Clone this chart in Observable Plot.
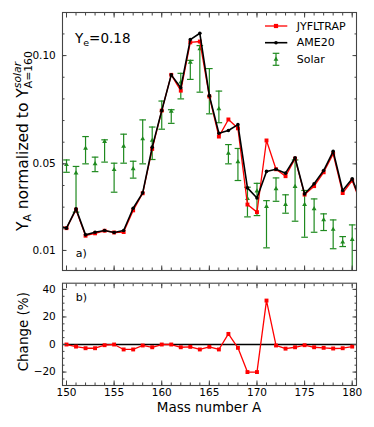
<!DOCTYPE html>
<html><head><meta charset="utf-8">
<script src="https://cdn.jsdelivr.net/npm/d3@7"></script>
<script src="https://cdn.jsdelivr.net/npm/@observablehq/plot@0.6"></script>
<style>
body{margin:0;background:#fff;}
#wrap{position:relative;width:374px;height:427px;font-family:"DejaVu Sans",sans-serif;}
#wrap svg{position:absolute;left:0;overflow:visible;}
</style></head><body><div id="wrap"></div>
<script>
// ---- data ----
const massA = [149,150,151,152,153,154,155,156,157,158,159,160,161,162,163,164,165,166,167,168,169,170,171,172,173,174,175,176,177,178,179,180,181];
const ame20 = [0.0215,0.0203,0.0292,0.0172,0.0184,0.0192,0.0183,0.0192,0.0295,0.0366,0.0577,0.0746,0.0911,0.0851,0.1074,0.1103,0.0815,0.0641,0.0654,0.0681,0.0389,0.0342,0.0465,0.0475,0.0457,0.0528,0.0361,0.0408,0.0469,0.0558,0.0377,0.0431,0.0312];
const jyfltrap = [0.0215,0.0203,0.0288,0.0168,0.0179,0.0191,0.0183,0.0185,0.0285,0.0364,0.0569,0.0746,0.0911,0.0838,0.1061,0.1065,0.0811,0.0626,0.0705,0.0664,0.0312,0.0277,0.0608,0.0475,0.0443,0.0524,0.0358,0.0397,0.0461,0.0546,0.0365,0.0423,0.0305];
const solarA = [150,151,152,153,154,155,156,157,158,159,160,161,162,163,164,165,166,167,168,169,170,171,172,173,174,175,176,177,178,179,180];
const solarVal = [0.0496,0.0457,0.0572,0.0500,0.0603,0.0473,0.0581,0.0477,0.0615,0.0608,0.0746,0.0743,0.0877,0.0969,0.1031,0.0815,0.0754,0.0549,0.0509,0.0340,0.0374,0.0303,0.0385,0.0312,0.0395,0.0312,0.0292,0.0241,0.0197,0.0138,0.0150];
const solarLo = [0.0461,0.0277,0.0500,0.0464,0.0508,0.0369,0.0503,0.0434,0.0500,0.0520,0.0660,0.0687,0.0800,0.0890,0.0831,0.0731,0.0690,0.0500,0.0423,0.0255,0.0261,0.0112,0.0327,0.0272,0.0235,0.0161,0.0184,0.0192,0.0108,0.0118,-0.0020];
const solarHi = [0.0518,0.0488,0.0626,0.0531,0.0611,0.0503,0.0637,0.0512,0.0703,0.0670,0.0790,0.0750,0.0918,0.0978,0.1046,0.0940,0.0836,0.0589,0.0571,0.0392,0.0410,0.0330,0.0435,0.0357,0.0518,0.0377,0.0338,0.0269,0.0241,0.0164,0.0218];
const changeA = [150,151,152,153,154,155,156,157,158,159,160,161,162,163,164,165,166,167,168,169,170,171,172,173,174,175,176,177,178,179,180];
const changePct = [0,-1.5,-2.7,-2.7,-0.5,0,-3.6,-3.6,-0.7,-2,0,0,-2,-1.7,-3.6,-1.7,-3.6,7.7,-2.4,-20,-20,31.9,-0.7,-3,-2,-0.5,-2,-2.4,-2.9,-2.7,-1.5];
const xMajorTicks = [150,155,160,165,170,175,180];
const xMinorTicks = d3.range(150,181);
const yTopMajor = [0.01,0.05,0.10];
const yTopMinor = d3.range(1,12).map(d=>d/100);
const yBotMajor = [-20,0,20,40];
const yBotMinor = d3.range(-25,45,5);

const RED = "#ff0000", GREEN = "#1f8a1f", FRAME = "#444";
const FONT = "DejaVu Sans";

const topData = massA.map((a,i)=>({A:a, ame:ame20[i], jy:jyfltrap[i]}));
const solarData = solarA.map((a,i)=>({A:a, v:solarVal[i], lo:solarLo[i], hi:solarHi[i]}));
const chData = changeA.map((a,i)=>({A:a, c:changePct[i]}));

const capSymbol = {draw(ctx){ ctx.moveTo(-3.3,0); ctx.lineTo(3.3,0); }};
const blank = () => "";

function frameAxes(xLabels, yMaj, yMin, yFmt) {
  const t = [];
  for (const anchor of ["bottom","top"]) {
    t.push(Plot.axisX({anchor, ticks: xMajorTicks, tickSize: -4.5, tickPadding: 7.8, label: null,
      tickFormat: (anchor==="bottom" && xLabels) ? d3.format("d") : blank, fontSize: 10.5, stroke: FRAME}));
    t.push(Plot.axisX({anchor, ticks: xMinorTicks, tickSize: -2.5, label: null, tickFormat: blank, stroke: FRAME}));
  }
  for (const anchor of ["left","right"]) {
    t.push(Plot.axisY({anchor, ticks: yMaj, tickSize: -4.5, tickPadding: 11.2, label: null,
      tickFormat: anchor==="left" ? yFmt : blank, fontSize: 10.5, stroke: FRAME}));
    t.push(Plot.axisY({anchor, ticks: yMin, tickSize: -2.5, label: null, tickFormat: blank, stroke: FRAME}));
  }
  return t;
}

const styleObj = {fontFamily: FONT, fontSize: "10.5px", color: "black", background: "transparent", overflow: "visible"};

const xDomain = [149.58, 180.45];

const topPlot = Plot.plot({
  width: 374, height: 276,
  marginLeft: 62, marginRight: 18, marginTop: 12, marginBottom: 6,
  x: {domain: xDomain},
  y: {domain: [0.00074, 0.1199]},
  style: styleObj,
  marks: [
    Plot.ruleX(solarData, {x: "A", y1: "lo", y2: "hi", stroke: GREEN, strokeWidth: 1.2, clip: true}),
    Plot.dot(solarData, {x: "A", y: "lo", symbol: capSymbol, stroke: GREEN, fill: "none", strokeWidth: 1.2, clip: true}),
    Plot.dot(solarData, {x: "A", y: "hi", symbol: capSymbol, stroke: GREEN, fill: "none", strokeWidth: 1.2, clip: true}),
    Plot.dot(solarData, {x: "A", y: "v", symbol: "triangle", r: 1.8, fill: GREEN, clip: true}),
    Plot.line(topData, {x: "A", y: "jy", stroke: RED, strokeWidth: 1.3, clip: true}),
    Plot.dot(topData, {x: "A", y: "jy", symbol: "square", r: 2.2, fill: RED, clip: true}),
    Plot.line(topData, {x: "A", y: "ame", stroke: "black", strokeWidth: 1.6, clip: true}),
    Plot.dot(topData, {x: "A", y: "ame", r: 1.8, fill: "black", clip: true}),
    Plot.frame({stroke: FRAME, strokeWidth: 1.1}),
    ...frameAxes(false, yTopMajor, yTopMinor, d3.format(".2f"))
  ]
});

const botPlot = Plot.plot({
  width: 374, height: 151,
  marginLeft: 62, marginRight: 18, marginTop: 6.7, marginBottom: 42,
  x: {domain: xDomain},
  y: {domain: [-29.75, 44.5]},
  style: styleObj,
  marks: [
    Plot.ruleY([0], {stroke: "black", strokeWidth: 1.3}),
    Plot.line(chData, {x: "A", y: "c", stroke: RED, strokeWidth: 1.3}),
    Plot.dot(chData, {x: "A", y: "c", symbol: "square", r: 2.2, fill: RED}),
    Plot.frame({stroke: FRAME, strokeWidth: 1.1}),
    ...frameAxes(true, yBotMajor, yBotMinor, d3.format("d"))
  ]
});

const wrap = document.getElementById("wrap");
topPlot.style.top = "0px";
botPlot.style.top = "276px";
wrap.appendChild(topPlot);
wrap.appendChild(botPlot);

// ---- annotations (real text) ----
const st = d3.select(topPlot), sb = d3.select(botPlot);

// y label top panel (start pinned at the bottom, reading upward)
const yl = st.append("text")
  .attr("transform", "translate(27.5,231) rotate(-90)")
  .attr("text-anchor", "start")
  .attr("font-family", FONT).attr("font-size", 15.5).attr("fill", "black");
yl.append("tspan").text("Y");
yl.append("tspan").attr("font-size", 10.8).attr("dy", 3.5).text("A");
yl.append("tspan").attr("dy", -3.5).text(" normalized to Y");
const sup = yl.append("tspan").attr("font-size", 10.8).attr("font-style", "italic").attr("dy", -6.6).text("solar");
const supW = sup.node().getComputedTextLength();
yl.append("tspan").attr("font-size", 10.8).attr("dx", -supW).attr("dy", 11.2).text("A=160");

// Ye label
const ye = st.append("text").attr("x", 75).attr("y", 43.3).attr("text-anchor", "start")
  .attr("font-family", FONT).attr("font-size", 13.5).attr("fill", "black");
ye.append("tspan").text("Y");
ye.append("tspan").attr("font-size", 9.5).attr("dy", 2.5).text("e");
ye.append("tspan").attr("dy", -2.5).text("=0.18");

st.append("text").attr("x", 75.7).attr("y", 256.5).attr("text-anchor", "start").attr("font-family", FONT).attr("font-size", 11).text("a)");
sb.append("text").attr("x", 75.7).attr("y", 300.5 - 276).attr("text-anchor", "start").attr("font-family", FONT).attr("font-size", 11).text("b)");

// legend
const lg = st.append("g").attr("font-family", FONT).attr("font-size", 11);
const legendItems = [
  {label: "JYFLTRAP", color: RED, kind: "square", y: 26},
  {label: "AME20", color: "black", kind: "circle", y: 42.7},
  {label: "Solar", color: GREEN, kind: "err", y: 59.3}
];
for (const it of legendItems) {
  if (it.kind === "err") {
    lg.append("line").attr("x1", 276).attr("x2", 276).attr("y1", it.y - 6).attr("y2", it.y + 6).attr("stroke", it.color).attr("stroke-width", 1.2);
    for (const dy of [-6, 6]) lg.append("line").attr("x1", 272.7).attr("x2", 279.3).attr("y1", it.y + dy).attr("y2", it.y + dy).attr("stroke", it.color).attr("stroke-width", 1.2);
    lg.append("path").attr("d", d3.symbol(d3.symbolTriangle, 10)()).attr("transform", `translate(276,${it.y})`).attr("fill", it.color);
  } else {
    lg.append("line").attr("x1", 265).attr("x2", 287.3).attr("y1", it.y).attr("y2", it.y).attr("stroke", it.color).attr("stroke-width", it.kind === "square" ? 1.3 : 1.6);
    if (it.kind === "square") lg.append("rect").attr("x", 276 - 2.1).attr("y", it.y - 2.1).attr("width", 4.2).attr("height", 4.2).attr("fill", it.color);
    else lg.append("circle").attr("cx", 276).attr("cy", it.y).attr("r", 1.8).attr("fill", it.color);
  }
  lg.append("text").attr("x", 296.7).attr("y", it.y).attr("text-anchor", "start").attr("dominant-baseline", "central").attr("fill", "black").text(it.label);
}

// bottom panel labels
sb.append("text").attr("x", 209).attr("y", 411.7 - 276).attr("text-anchor", "middle")
  .attr("font-family", FONT).attr("font-size", 13.5).attr("fill", "black").text("Mass number A");
sb.append("text").attr("transform", `translate(28.2,${331.7 - 276}) rotate(-90)`).attr("text-anchor", "middle")
  .attr("font-family", FONT).attr("font-size", 13.5).attr("fill", "black").text("Change (%)");
</script>
</body></html>
